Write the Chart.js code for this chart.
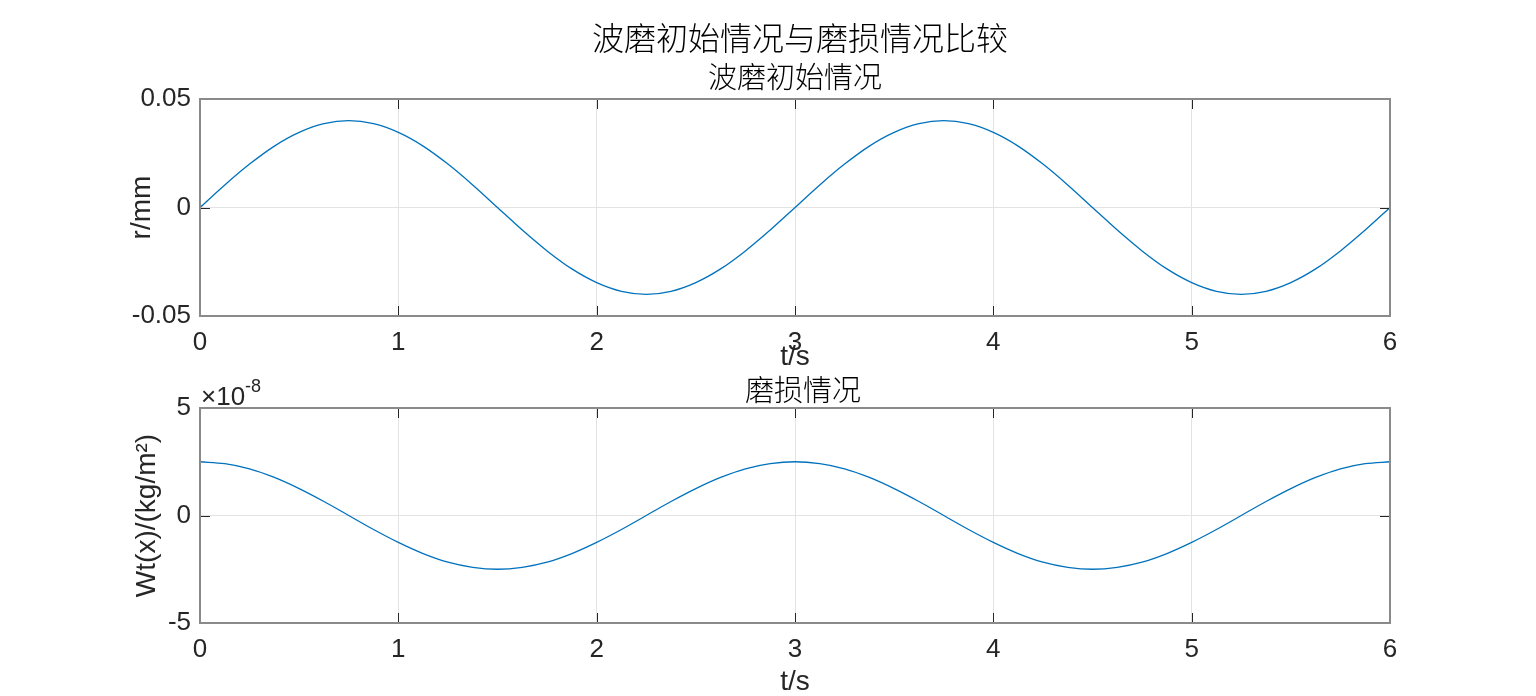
<!DOCTYPE html>
<html>
<head>
<meta charset="utf-8">
<script src="https://cdn.jsdelivr.net/npm/chart.js@4/dist/chart.umd.min.js"></script>
<style>
  body { margin: 0; background: #fff; }
  #fig { position: relative; width: 1536px; height: 696px; overflow: hidden; background: #fff; }
  #fig canvas { position: absolute; left: 0; }
  .ttl { position: absolute; text-align: center; white-space: nowrap; color: #000;
         font-family: "Noto Sans CJK SC", sans-serif; font-weight: 300; }
  .expo { position: absolute; color: #262626; font-family: "Liberation Sans", Arial, sans-serif; font-size: 26px; }
  .expo sup { font-size: 18px; position: relative; top: -3px; }
</style>
</head>
<body>
<div id="fig">
  <canvas id="rollChart" width="1536" height="376" style="top:0px"></canvas>
  <canvas id="wearChart" width="1536" height="366" style="top:330px"></canvas>
  <div class="ttl" style="left:500px;width:600px;top:20px;font-size:32px;line-height:32px;">波磨初始情况与磨损情况比较</div>
  <div class="ttl" style="left:595px;width:400px;top:61px;font-size:29px;line-height:29px;">波磨初始情况</div>
  <div class="ttl" style="left:603px;width:400px;top:374px;font-size:29px;line-height:29px;">磨损情况</div>
  <div class="expo" style="left:201px;top:379px;">×10<sup>-8</sup></div>
</div>
<script>
// time samples (s)
const tVals = [0, 0.125, 0.25, 0.375, 0.5, 0.625, 0.75, 0.875, 1, 1.125, 1.25, 1.375, 1.5,
               1.625, 1.75, 1.875, 2, 2.125, 2.25, 2.375, 2.5, 2.625, 2.75, 2.875, 3,
               3.125, 3.25, 3.375, 3.5, 3.625, 3.75, 3.875, 4, 4.125, 4.25, 4.375, 4.5,
               4.625, 4.75, 4.875, 5, 5.125, 5.25, 5.375, 5.5, 5.625, 5.75, 5.875, 6];

// initial corrugation r (mm)
const rVals = [0, 0.0104, 0.0200, 0.0283, 0.0346, 0.0386, 0.0400, 0.0386, 0.0346, 0.0283, 0.0200, 0.0104, 0,
               -0.0104, -0.0200, -0.0283, -0.0346, -0.0386, -0.0400, -0.0386, -0.0346, -0.0283, -0.0200, -0.0104, 0,
               0.0104, 0.0200, 0.0283, 0.0346, 0.0386, 0.0400, 0.0386, 0.0346, 0.0283, 0.0200, 0.0104, 0,
               -0.0104, -0.0200, -0.0283, -0.0346, -0.0386, -0.0400, -0.0386, -0.0346, -0.0283, -0.0200, -0.0104, 0];

// wear Wt(x), in units of 1e-8 kg/m^2
const wearVals = [2.5, 2.41, 2.17, 1.77, 1.25, 0.65, 0, -0.65, -1.25, -1.77, -2.17, -2.41, -2.5,
                  -2.41, -2.17, -1.77, -1.25, -0.65, 0, 0.65, 1.25, 1.77, 2.17, 2.41, 2.5,
                  2.41, 2.17, 1.77, 1.25, 0.65, 0, -0.65, -1.25, -1.77, -2.17, -2.41, -2.5,
                  -2.41, -2.17, -1.77, -1.25, -0.65, 0, 0.65, 1.25, 1.77, 2.17, 2.41, 2.5];

const xTicks = [0, 1, 2, 3, 4, 5, 6];
const rTicks = [-0.05, 0, 0.05];
const wearTicks = [-5, 0, 5];

const lineColor = '#0072BD';
const fontFamily = '"Liberation Sans", Arial, sans-serif';
const tickFont = { family: fontFamily, size: 26 };
const labelFont = { family: fontFamily, size: 28, lineHeight: 1 };
const textColor = '#262626';

// MATLAB-like box with inward tick marks on all four sides
const matlabBox = {
    id: 'matlabBox',
    afterDatasetsDraw(chart) {
        const { ctx, chartArea: a, scales } = chart;
        const len = 10;
        ctx.save();
        ctx.strokeStyle = textColor;
        ctx.lineWidth = 1;
        ctx.beginPath();
        scales.x.ticks.forEach(t => {
            const px = Math.round(scales.x.getPixelForValue(t.value)) + 0.5;
            ctx.moveTo(px, a.bottom); ctx.lineTo(px, a.bottom - len);
            ctx.moveTo(px, a.top); ctx.lineTo(px, a.top + len);
        });
        scales.y.ticks.forEach(t => {
            const py = Math.round(scales.y.getPixelForValue(t.value)) + 0.5;
            ctx.moveTo(a.left, py); ctx.lineTo(a.left + len, py);
            ctx.moveTo(a.right, py); ctx.lineTo(a.right - len, py);
        });
        ctx.stroke();
        ctx.strokeStyle = '#8a8a8a';
        ctx.lineWidth = 2;
        ctx.strokeRect(a.left, a.top, a.right - a.left, a.bottom - a.top);
        ctx.restore();
    }
};

function buildOptions(cfg) {
    return {
        responsive: false,
        animation: false,
        layout: { padding: { left: 0, right: 146, top: cfg.padTop, bottom: 0 } },
        plugins: { legend: { display: false }, tooltip: { enabled: false } },
        elements: { point: { radius: 0 } },
        scales: {
            x: {
                type: 'linear',
                min: 0,
                max: 6,
                afterBuildTicks: axis => { axis.ticks = xTicks.map(v => ({ value: v })); },
                afterFit: axis => { axis.height = cfg.xHeight; },
                grid: { color: '#e3e3e3', drawTicks: false },
                border: { display: false },
                ticks: { font: tickFont, color: textColor, padding: 11, maxRotation: 0 },
                title: {
                    display: true, text: 't/s', color: textColor, font: labelFont,
                    padding: { top: 0, bottom: cfg.xTitlePad }
                }
            },
            y: {
                type: 'linear',
                min: cfg.yTicks[0],
                max: cfg.yTicks[cfg.yTicks.length - 1],
                afterBuildTicks: axis => { axis.ticks = cfg.yTicks.map(v => ({ value: v })); },
                afterFit: axis => { axis.width = 200; },
                grid: { color: '#e3e3e3', drawTicks: false },
                border: { display: false },
                ticks: { font: tickFont, color: textColor, padding: 9, callback: v => String(v) },
                title: {
                    display: true, text: cfg.yLabel, color: textColor, font: labelFont,
                    padding: { top: cfg.yTitlePad, bottom: 0 }
                }
            }
        }
    };
}

new Chart(document.getElementById('rollChart'), {
    type: 'line',
    data: {
        datasets: [{
            label: 'r',
            data: tVals.map((t, i) => ({ x: t, y: rVals[i] })),
            borderColor: lineColor,
            borderWidth: 1.3,
            cubicInterpolationMode: 'monotone',
            fill: false
        }]
    },
    options: buildOptions({ padTop: 99, xHeight: 60, xTitlePad: 5, yTitlePad: 128,
                            yTicks: rTicks, yLabel: 'r/mm' }),
    plugins: [matlabBox]
});

new Chart(document.getElementById('wearChart'), {
    type: 'line',
    data: {
        datasets: [{
            label: 'Wt',
            data: tVals.map((t, i) => ({ x: t, y: wearVals[i] })),
            borderColor: lineColor,
            borderWidth: 1.3,
            cubicInterpolationMode: 'monotone',
            fill: false
        }]
    },
    options: buildOptions({ padTop: 78, xHeight: 73, xTitlePad: 0, yTitlePad: 133,
                            yTicks: wearTicks, yLabel: 'Wt(x)/(kg/m²)' }),
    plugins: [matlabBox]
});
</script>
</body>
</html>
